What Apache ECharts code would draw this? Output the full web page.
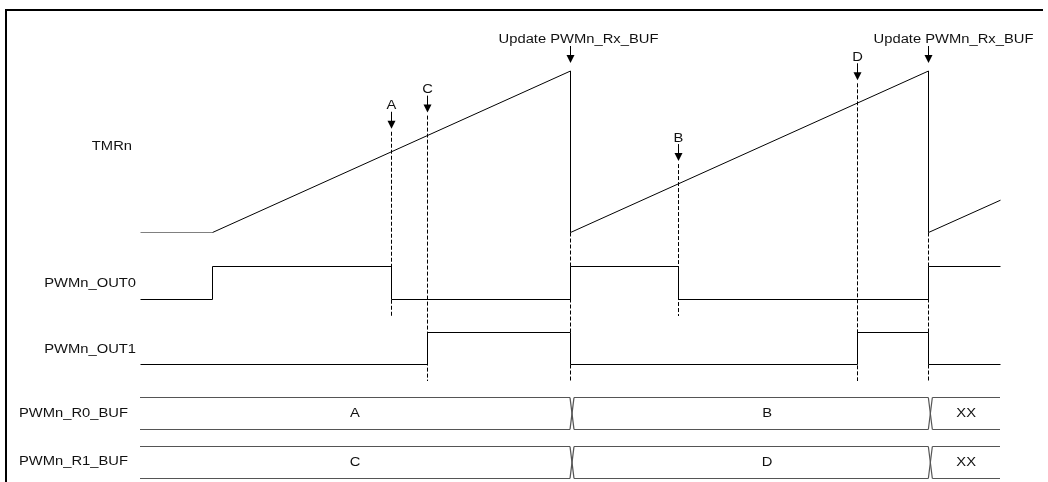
<!DOCTYPE html>
<html><head><meta charset="utf-8">
<script src="https://cdn.jsdelivr.net/npm/echarts@6/dist/echarts.min.js"></script>
<style>html,body{margin:0;padding:0;background:#fff}#c{width:1048px;height:482px}</style>
</head><body><div id="c"></div>
<script>
// ---------- data ----------
const signalNames = ['TMRn', 'PWMn_OUT0', 'PWMn_OUT1', 'PWMn_R0_BUF', 'PWMn_R1_BUF'];
const counterTimes = [-20, 0, 100, 100, 200, 200, 220];
const counterValues = [0, 0, 100, 0, 100, 0, 20];
const out0Edges = [-20, 0, 50, 100, 130, 200, 220];
const out0Levels = [0, 1, 0, 1, 0, 1];
const out1Edges = [-20, 60, 100, 180, 200, 220];
const out1Levels = [0, 1, 0, 1, 0];
const compareNames = ['A', 'C', 'B', 'D'];
const compareTimes = [50, 60, 130, 180];
const compareValues = [50, 60, 30, 80];
const compareOutput = [0, 1, 0, 1];
const updateTimes = [100, 200];
const updateLabel = 'Update PWMn_Rx_BUF';
const busEdges = [-20, 100, 200, 220];
const r0Values = ['A', 'B', 'XX'];
const r1Values = ['C', 'D', 'XX'];

// ---------- layout (pixels) ----------
const L = {
  gridLeft: 140, gridRight: 48,
  tmr0: 232.5, tmr100: 71,
  outHigh: [266.5, 332.5], outLow: [299.5, 364.5],
  busTop: [397.5, 446.5], busBot: [429.5, 478.5],
  nameRight: [132, 136, 136, 128, 128],
  nameY: [147, 283.5, 349.5, 413.5, 462],
  font: 12.5, sx: 1.18,
  updateLabelDx: [8, 25],
  busShift: 2, busHalf: 2,
  busLabelDx: [0, 16, 0],
  dashBelow: 16.5
};
const FONT = '"Liberation Sans", Arial, sans-serif';
const yCounter = v => L.tmr0 + (L.tmr100 - L.tmr0) * v / 100;
const snap = x => Math.round(x) + 0.5;

function txt(x, y, s, align) {
  return {
    type: 'text', x: x, y: y, scaleX: L.sx,
    style: { text: s, fontSize: L.font, fontFamily: FONT, fill: '#111',
             align: align, verticalAlign: 'middle', textAlign: align, textVerticalAlign: 'middle' }
  };
}
function seg(x1, y1, x2, y2, color, dash, w) {
  return { type: 'line', shape: { x1, y1, x2, y2 },
           style: { stroke: color || '#000', lineWidth: w || 1, lineDash: dash || null } };
}
function poly(points, color) {
  return { type: 'polyline', shape: { points },
           style: { stroke: color || '#000', lineWidth: 1, fill: null } };
}
function arrow(x, tip) {
  return [
    seg(x, tip - 17, x, tip - 6),
    { type: 'polygon', shape: { points: [[x - 4, tip - 8], [x + 4, tip - 8], [x, tip]] },
      style: { fill: '#000' } }
  ];
}
function stepPoints(edges, levels, idx) {
  const pts = [];
  for (let i = 0; i < levels.length; i++) {
    const y = levels[i] ? L.outHigh[idx] : L.outLow[idx];
    pts.push([edges[i], y], [edges[i + 1], y]);
  }
  return pts;
}

const counterPts = counterTimes.map((t, i) => [t, yCounter(counterValues[i])]);
const waves = [
  { pts: counterPts.slice(0, 2), color: '#808080' },
  { pts: counterPts.slice(1), color: '#000' },
  { pts: stepPoints(out0Edges, out0Levels, 0), color: '#000' },
  { pts: stepPoints(out1Edges, out1Levels, 1), color: '#000' }
];

const chart = echarts.init(document.getElementById('c'), null, { renderer: 'canvas' });
chart.setOption({
  animation: false,
  backgroundColor: '#fff',
  grid: { left: L.gridLeft, right: L.gridRight, top: 0, bottom: 0 },
  xAxis: { type: 'value', min: -20, max: 220, show: false },
  yAxis: { type: 'value', min: 0, max: 482, inverse: true, show: false },
  graphic: [
    { type: 'line', shape: { x1: 5, y1: 10, x2: 1043, y2: 10 }, style: { stroke: '#000', lineWidth: 2 } },
    { type: 'line', shape: { x1: 6, y1: 9, x2: 6, y2: 482 }, style: { stroke: '#000', lineWidth: 2 } }
  ],
  series: [
    // waveforms (counter + PWM outputs)
    { type: 'custom', silent: true, data: waves.map((w, i) => [i]),
      renderItem: (p, api) => {
        const w = waves[api.value(0)];
        const pts = w.pts.map(q => { const c = api.coord(q); return [snap(c[0]), c[1]]; });
        return poly(pts, w.color);
      } },
    // signal names
    { type: 'custom', silent: true, data: signalNames.map((n, i) => [i]),
      renderItem: (p, api) => {
        const i = api.value(0);
        const y = api.coord([0, L.nameY[i]])[1];
        return txt(L.nameRight[i], y, signalNames[i], 'right');
      } },
    // compare markers
    { type: 'custom', silent: true, data: compareTimes.map((t, i) => [t, compareValues[i], i]),
      renderItem: (p, api) => {
        const i = api.value(2);
        const c = api.coord([api.value(0), yCounter(api.value(1))]);
        const x = snap(c[0]);
        const tip = c[1] - 23;
        const end = L.outLow[compareOutput[i]] + L.dashBelow;
        return { type: 'group', children: [
          txt(x, tip - 23, compareNames[i], 'center'),
          ...arrow(x, tip),
          seg(x, tip + 3, x, end, '#000', [4, 2])
        ] };
      } },
    // update markers
    { type: 'custom', silent: true, data: updateTimes.map((t, i) => [t, i]),
      renderItem: (p, api) => {
        const i = api.value(1);
        const top = api.coord([api.value(0), yCounter(100)]);
        const bot = api.coord([api.value(0), yCounter(0)]);
        const x = snap(top[0]);
        const tip = top[1] - 8;
        return { type: 'group', children: [
          txt(x + L.updateLabelDx[i], tip - 23, updateLabel, 'center'),
          ...arrow(x, tip),
          seg(x, bot[1], x, L.outLow[1] + L.dashBelow, '#000', [4, 2])
        ] };
      } },
    // buses
    { type: 'custom', silent: true,
      data: [r0Values, r1Values].flatMap((vals, b) => vals.map((v, s) => [b, s])),
      renderItem: (p, api) => {
        const b = api.value(0), s = api.value(1);
        const vals = b === 0 ? r0Values : r1Values;
        const n = vals.length;
        const top = L.busTop[b], bot = L.busBot[b];
        const ex0 = api.coord([busEdges[s], 0])[0];
        const ex1 = api.coord([busEdges[s + 1], 0])[0];
        const xs = s > 0 ? ex0 + L.busShift + L.busHalf : ex0;
        const xe = s < n - 1 ? ex1 + L.busShift - L.busHalf : ex1;
        const col = '#555';
        const ch = [
          seg(xs, top, xe, top, col, null, 1.2),
          seg(xs, bot, xe, bot, col, null, 1.2),
          txt((xs + xe) / 2 + L.busLabelDx[s], (top + bot) / 2 + 0.5, vals[s], 'center')
        ];
        if (s < n - 1) {
          const xt = ex1 + L.busShift;
          ch.push(seg(xt - L.busHalf, top, xt + L.busHalf, bot, col, null, 1.2));
          ch.push(seg(xt - L.busHalf, bot, xt + L.busHalf, top, col, null, 1.2));
        }
        return { type: 'group', children: ch };
      } }
  ]
});
</script>
</body></html>
